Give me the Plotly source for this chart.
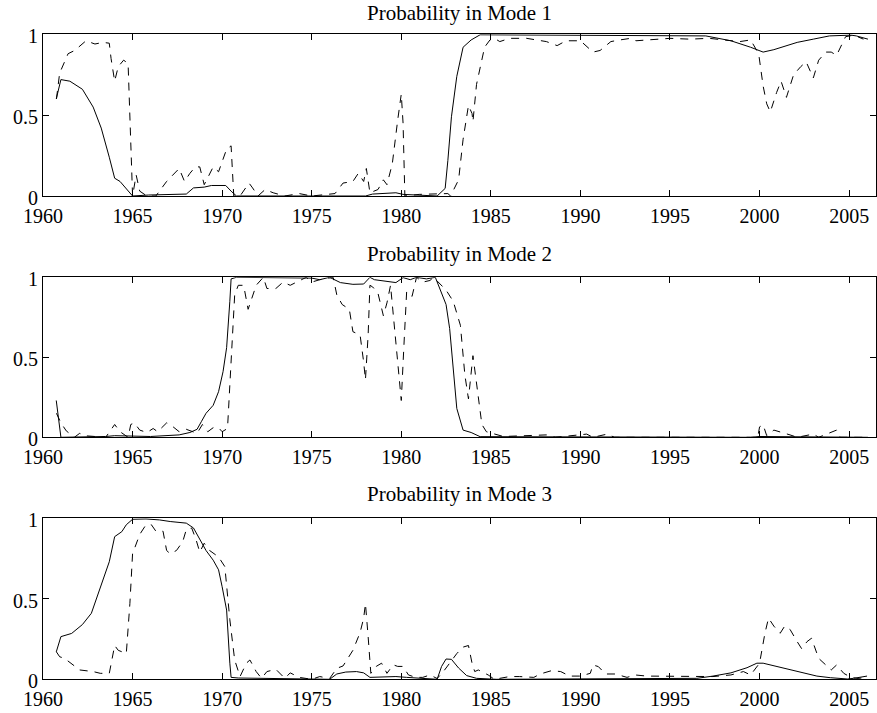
import plotly.graph_objects as go

# ---- data: (year, probability) ----
mode1_smoothed = [
    (1960.74, 0.60), (1961.0, 0.72), (1961.5, 0.71), (1962.2, 0.66), (1962.8, 0.55),
    (1963.25, 0.42), (1963.7, 0.24), (1964.0, 0.11), (1964.3, 0.09), (1965.0, 0.0),
    (1965.9, 0.006), (1968.0, 0.012), (1968.4, 0.05), (1969.0, 0.055), (1969.4, 0.065),
    (1970.2, 0.065), (1970.5, 0.03), (1970.8, 0.0), (1978.0, 0.0), (1978.4, 0.012),
    (1979.7, 0.02), (1980.1, 0.01), (1982.0, 0.0), (1982.3, 0.03), (1982.45, 0.047),
    (1982.6, 0.22), (1982.8, 0.49), (1983.1, 0.74), (1983.45, 0.92), (1983.9, 0.965),
    (1984.4, 0.997), (1997.0, 0.99), (1998.4, 0.96), (1999.5, 0.92), (1999.95, 0.90),
    (2000.2, 0.89), (2000.8, 0.905), (2002.1, 0.95), (2003.0, 0.97), (2003.9, 0.99),
    (2005.1, 0.995), (2005.4, 0.99), (2006.05, 0.97),
]
mode1_filtered = [
    (1960.75, 0.60), (1960.93, 0.76), (1961.4, 0.88), (1961.77, 0.90), (1962.4, 0.96),
    (1962.9, 0.94), (1963.35, 0.95), (1963.7, 0.945), (1963.8, 0.85), (1964.0, 0.71),
    (1964.2, 0.80), (1964.5, 0.84), (1964.75, 0.82), (1965.0, 0.0), (1965.2, 0.13),
    (1965.4, 0.03), (1965.8, 0.0), (1966.3, 0.0), (1966.9, 0.09), (1967.6, 0.17),
    (1967.9, 0.09), (1968.2, 0.14), (1968.5, 0.18), (1968.75, 0.18), (1969.0, 0.07),
    (1969.5, 0.18), (1969.8, 0.15), (1970.25, 0.29), (1970.5, 0.31), (1970.65, 0.0),
    (1971.0, 0.0), (1971.5, 0.08), (1971.7, 0.05), (1972.0, 0.0), (1972.4, 0.04),
    (1972.85, 0.02), (1973.5, 0.0), (1974.3, 0.015), (1975.0, 0.0), (1976.3, 0.015),
    (1976.75, 0.08), (1977.3, 0.09), (1977.6, 0.14), (1977.9, 0.09), (1978.05, 0.17),
    (1978.25, 0.02), (1978.7, 0.04), (1979.0, 0.10), (1979.2, 0.07), (1979.5, 0.20),
    (1979.8, 0.47), (1980.0, 0.63), (1980.1, 0.45), (1980.2, 0.0), (1981.0, 0.01),
    (1982.15, 0.016), (1982.6, 0.015), (1982.75, 0.0), (1983.2, 0.10), (1983.45, 0.35),
    (1983.75, 0.56), (1983.95, 0.51), (1984.0, 0.46), (1984.2, 0.69), (1984.4, 0.80),
    (1984.65, 0.92), (1984.95, 0.965), (1985.2, 0.975), (1985.5, 0.955), (1986.05, 0.975),
    (1987.0, 0.975), (1987.7, 0.965), (1988.1, 0.955), (1988.7, 0.93), (1989.2, 0.96),
    (1990.0, 0.96), (1990.7, 0.89), (1991.1, 0.90), (1991.7, 0.955), (1992.2, 0.965),
    (1992.8, 0.975), (1993.1, 0.96), (1994.3, 0.97), (1995.0, 0.975), (1996.1, 0.97),
    (1997.2, 0.975), (1998.0, 0.965), (1998.9, 0.955), (1999.5, 0.965), (1999.95, 0.88),
    (2000.2, 0.68), (2000.4, 0.57), (2000.6, 0.52), (2000.95, 0.64), (2001.2, 0.71),
    (2001.5, 0.61), (2001.9, 0.75), (2002.3, 0.80), (2002.6, 0.83), (2003.0, 0.73),
    (2003.3, 0.84), (2003.7, 0.89), (2004.0, 0.89), (2004.3, 0.87), (2004.8, 0.985),
    (2005.25, 0.995), (2005.8, 0.97),
]
mode2_smoothed = [
    (1960.74, 0.23), (1961.0, 0.0), (1963.5, 0.005), (1964.0, 0.01), (1966.0, 0.005),
    (1966.9, 0.008), (1967.6, 0.015), (1968.2, 0.03), (1968.6, 0.05), (1968.85, 0.10),
    (1969.1, 0.15), (1969.5, 0.20), (1969.8, 0.285), (1970.05, 0.41), (1970.25, 0.56),
    (1970.43, 0.85), (1970.5, 0.99), (1970.8, 1.0), (1975.0, 0.995), (1975.45, 0.985),
    (1976.0, 1.0), (1976.6, 0.967), (1977.3, 0.956), (1977.9, 0.958), (1978.25, 1.0),
    (1978.5, 0.985), (1979.2, 0.973), (1979.7, 0.967), (1980.1, 0.998), (1980.5, 0.985),
    (1980.85, 1.0), (1981.4, 0.99), (1981.9, 1.0), (1982.25, 0.90), (1982.5, 0.83),
    (1982.7, 0.68), (1982.9, 0.43), (1983.1, 0.18), (1983.45, 0.045), (1983.9, 0.03),
    (1984.4, 0.004), (1999.5, 0.0), (2000.0, 0.005), (2006.05, 0.0),
]
mode2_filtered = [
    (1960.75, 0.15), (1961.0, 0.09), (1961.3, 0.04), (1961.75, 0.0), (1962.05, 0.025),
    (1962.3, 0.01), (1963.5, 0.0), (1964.0, 0.08), (1964.3, 0.035), (1964.75, 0.0),
    (1964.9, 0.08), (1965.1, 0.09), (1965.4, 0.045), (1965.8, 0.03), (1966.15, 0.055),
    (1966.4, 0.035), (1966.9, 0.09), (1967.1, 0.08), (1967.6, 0.035), (1968.0, 0.05),
    (1968.6, 0.025), (1968.9, 0.08), (1969.2, 0.035), (1969.5, 0.06), (1969.8, 0.06),
    (1970.0, 0.035), (1970.3, 0.055), (1970.5, 0.47), (1970.7, 0.89), (1970.9, 0.95),
    (1971.2, 0.95), (1971.45, 0.80), (1971.6, 0.85), (1971.9, 0.95), (1972.3, 1.0),
    (1972.5, 0.93), (1973.0, 0.93), (1973.4, 0.97), (1973.8, 0.95), (1974.3, 0.98),
    (1974.7, 1.0), (1975.0, 0.97), (1975.45, 0.985), (1976.2, 1.0), (1976.4, 0.89),
    (1976.7, 0.83), (1977.1, 0.80), (1977.3, 0.66), (1977.7, 0.64), (1977.9, 0.47),
    (1978.0, 0.36), (1978.15, 0.64), (1978.25, 0.95), (1978.4, 0.94), (1978.7, 0.90),
    (1979.0, 0.76), (1979.2, 0.84), (1979.4, 0.95), (1979.55, 0.76), (1979.8, 0.49),
    (1980.0, 0.23), (1980.15, 0.58), (1980.3, 0.91), (1980.6, 0.88), (1980.85, 1.0),
    (1981.2, 0.97), (1981.6, 0.98), (1981.8, 1.0), (1982.05, 0.97), (1982.5, 0.92),
    (1982.9, 0.85), (1983.3, 0.70), (1983.55, 0.39), (1983.75, 0.24), (1984.0, 0.51),
    (1984.2, 0.33), (1984.5, 0.08), (1984.75, 0.035), (1985.3, 0.02), (1985.7, 0.005),
    (1988.1, 0.015), (1988.6, 0.0), (1990.35, 0.02), (1990.7, 0.0), (1991.5, 0.02),
    (1991.9, 0.0), (1999.9, 0.0), (2000.0, 0.065), (2000.2, 0.078), (2000.4, 0.01),
    (2000.8, 0.045), (2001.15, 0.035), (2001.7, 0.015), (2002.1, 0.0), (2003.0, 0.02),
    (2003.3, 0.0), (2004.1, 0.035), (2004.3, 0.045), (2004.5, 0.0), (2006.0, 0.0),
]
mode3_smoothed = [
    (1960.74, 0.17), (1961.0, 0.265), (1961.6, 0.285), (1962.2, 0.34), (1962.7, 0.41),
    (1963.25, 0.585), (1963.7, 0.73), (1964.0, 0.886), (1964.4, 0.917), (1964.65, 0.96),
    (1965.0, 0.994), (1965.75, 0.996), (1966.5, 0.99), (1967.1, 0.98), (1967.6, 0.975),
    (1968.0, 0.97), (1968.4, 0.94), (1968.75, 0.865), (1969.1, 0.80), (1969.5, 0.74),
    (1969.8, 0.68), (1970.0, 0.575), (1970.25, 0.43), (1970.43, 0.10), (1970.5, 0.012),
    (1970.9, 0.008), (1975.0, 0.004), (1976.0, 0.0), (1976.4, 0.033), (1976.9, 0.045),
    (1977.5, 0.048), (1977.9, 0.04), (1978.25, 0.012), (1978.8, 0.014), (1979.7, 0.017),
    (1980.3, 0.012), (1981.4, 0.002), (1982.0, 0.0), (1982.25, 0.08), (1982.5, 0.126),
    (1982.8, 0.124), (1983.2, 0.07), (1983.65, 0.023), (1984.2, 0.006), (1985.3, 0.0),
    (1996.5, 0.006), (1997.4, 0.02), (1998.4, 0.04), (1999.3, 0.072), (1999.85, 0.10),
    (2000.2, 0.10), (2001.0, 0.079), (2001.7, 0.058), (2002.45, 0.037), (2003.2, 0.02),
    (2003.95, 0.01), (2004.9, 0.002), (2005.25, 0.006), (2006.0, 0.02),
]
mode3_filtered = [
    (1960.75, 0.17), (1960.93, 0.14), (1961.2, 0.13), (1961.7, 0.09), (1962.05, 0.058),
    (1962.8, 0.048), (1963.2, 0.037), (1963.7, 0.037), (1964.0, 0.21), (1964.2, 0.18),
    (1964.65, 0.16), (1964.85, 0.47), (1965.0, 0.78), (1965.4, 0.90), (1965.75, 0.96),
    (1966.05, 0.96), (1966.3, 0.92), (1966.7, 0.92), (1966.9, 0.80), (1967.1, 0.78),
    (1967.45, 0.80), (1967.8, 0.855), (1968.0, 0.93), (1968.3, 0.94), (1968.55, 0.865),
    (1968.75, 0.79), (1969.0, 0.845), (1969.3, 0.80), (1969.8, 0.76), (1970.15, 0.70),
    (1970.43, 0.37), (1970.7, 0.12), (1971.0, 0.017), (1971.35, 0.10), (1971.55, 0.12),
    (1971.9, 0.048), (1972.2, 0.006), (1972.5, 0.048), (1973.0, 0.062), (1973.5, 0.006),
    (1973.8, 0.04), (1974.3, 0.012), (1975.0, 0.0), (1975.45, 0.017), (1976.0, 0.005),
    (1976.4, 0.068), (1976.75, 0.083), (1977.3, 0.18), (1977.7, 0.29), (1977.9, 0.38),
    (1978.0, 0.47), (1978.15, 0.265), (1978.3, 0.037), (1978.6, 0.08), (1978.9, 0.10),
    (1979.2, 0.037), (1979.55, 0.09), (1979.8, 0.08), (1980.1, 0.08), (1980.4, 0.027),
    (1980.8, 0.012), (1981.2, 0.012), (1981.6, 0.027), (1982.0, 0.005), (1982.35, 0.048),
    (1982.7, 0.10), (1983.1, 0.16), (1983.45, 0.20), (1983.75, 0.21), (1983.95, 0.10),
    (1984.1, 0.048), (1984.3, 0.058), (1984.85, 0.027), (1985.2, 0.0), (1986.05, 0.017),
    (1986.6, 0.017), (1987.4, 0.012), (1987.75, 0.033), (1988.4, 0.054), (1988.9, 0.048),
    (1989.4, 0.02), (1990.0, 0.02), (1990.55, 0.037), (1990.7, 0.089), (1991.0, 0.079),
    (1991.4, 0.033), (1991.95, 0.033), (1992.6, 0.012), (1993.05, 0.027), (1993.7, 0.02),
    (1994.6, 0.02), (1995.4, 0.017), (1996.5, 0.02), (1997.4, 0.017), (1998.4, 0.027),
    (1999.1, 0.048), (1999.5, 0.027), (2000.0, 0.10), (2000.3, 0.286), (2000.5, 0.38),
    (2000.8, 0.33), (2001.15, 0.286), (2001.4, 0.33), (2001.7, 0.31), (2002.1, 0.234),
    (2002.35, 0.19), (2002.65, 0.234), (2002.9, 0.255), (2003.3, 0.13), (2003.7, 0.089),
    (2004.0, 0.058), (2004.3, 0.089), (2004.7, 0.037), (2005.1, 0.012), (2005.5, 0.005),
    (2005.9, 0.012),
]

titles = ["Probability in Mode 1", "Probability in Mode 2", "Probability in Mode 3"]
x_ticks = [1960, 1965, 1970, 1975, 1980, 1985, 1990, 1995, 2000, 2005]
y_ticks = [0, 0.5, 1]
y_tick_labels = ["0", "0.5", "1"]

panels = [
    (mode1_smoothed, mode1_filtered),
    (mode2_smoothed, mode2_filtered),
    (mode3_smoothed, mode3_filtered),
]

W, H = 877, 713
FONT = "Liberation Serif, Times New Roman, serif"
# pixel rows (top, bottom) of each plot area
rows_px = [(34.3, 196.0), (277.3, 437.3), (518.3, 679.3)]
title_px = [13, 254, 494]

fig = go.Figure()
layout = dict(
    width=W, height=H,
    margin=dict(l=43, r=1, t=0, b=0, autoexpand=False),
    paper_bgcolor="white", plot_bgcolor="white",
    showlegend=False,
    font=dict(family=FONT, size=20, color="black"),
    annotations=[],
)

for i, (smooth, filt) in enumerate(panels):
    xa = "x" if i == 0 else f"x{i+1}"
    ya = "y" if i == 0 else f"y{i+1}"
    fig.add_trace(go.Scatter(
        x=[p[0] for p in smooth], y=[p[1] for p in smooth], mode="lines",
        line=dict(color="black", width=1), xaxis=xa, yaxis=ya))
    fig.add_trace(go.Scatter(
        x=[p[0] for p in filt], y=[p[1] for p in filt], mode="lines",
        line=dict(color="black", width=1, dash="8px,7px"), xaxis=xa, yaxis=ya))
    top, bot = rows_px[i]
    dom = [1 - bot / H, 1 - top / H]
    xkey = "xaxis" if i == 0 else f"xaxis{i+1}"
    ykey = "yaxis" if i == 0 else f"yaxis{i+1}"
    layout[xkey] = dict(
        range=[1960, 2006.5], tickmode="array", tickvals=x_ticks,
        ticktext=[str(v) for v in x_ticks],
        ticks="inside", ticklen=6, tickcolor="black", tickwidth=1,
        showline=True, linecolor="black", linewidth=1, mirror="ticks",
        showgrid=False, zeroline=False, anchor=ya, automargin=False,
        ticklabelstandoff=2,
        tickfont=dict(family=FONT, size=20, color="black"),
    )
    layout[ykey] = dict(
        domain=dom, range=[0, 1], tickmode="array", tickvals=y_ticks,
        ticktext=y_tick_labels,
        ticks="inside", ticklen=6, tickcolor="black", tickwidth=1,
        showline=True, linecolor="black", linewidth=1, mirror="ticks",
        showgrid=False, zeroline=False, anchor=xa, automargin=False,
        ticklabelshift=2,
        tickfont=dict(family=FONT, size=20, color="black"),
    )
    layout["annotations"].append(dict(
        text=titles[i], x=0.5, xref="paper", y=1 - title_px[i] / H, yref="paper",
        xanchor="center", yanchor="middle", showarrow=False,
        font=dict(family=FONT, size=21, color="black"),
    ))

fig.update_layout(**layout)
fig.write_html("out.html")
